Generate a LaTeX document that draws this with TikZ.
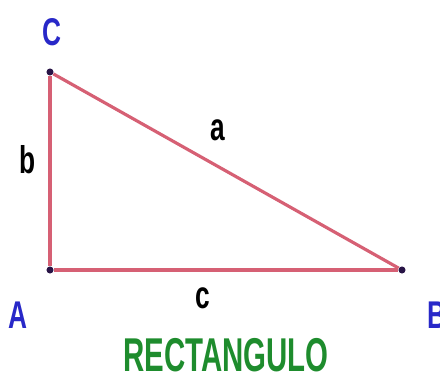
\documentclass[tikz,border=0pt]{standalone}
\usepackage{fontspec}
\setmainfont{Liberation Sans}
\usepackage{graphicx}
\definecolor{sidered}{RGB}{214,96,116}
\definecolor{vertblue}{RGB}{40,40,200}
\definecolor{titlegreen}{RGB}{30,140,45}
\definecolor{dotnavy}{RGB}{40,20,70}
\newcommand{\squeeze}[1]{\scalebox{0.68}[1]{#1}}
\begin{document}
\begin{tikzpicture}[
      vertex/.style={circle, fill=dotnavy, inner sep=0pt, minimum size=4pt},
      vname/.style={text=vertblue, font=\fontsize{22}{22}\selectfont\bfseries},
      sname/.style={text=black, font=\fontsize{22}{22}\selectfont\bfseries},
      side/.style={draw=sidered, line width=1.8pt}
  ]
  \useasboundingbox (0,0) rectangle (8.8,7.48);

  % Vertices
  \node[vertex] (A) at (1.0,2.08) {};
  \node[vertex] (C) at (1.0,6.04) {};
  \node[vertex] (B) at (8.04,2.08) {};

  % Sides
  \draw[side] (A) -- (C);
  \draw[side] (C) -- (B);
  \draw[side] (A) -- (B);

  % Labels
  \node[vname] (labC) at (1.04,6.84) {\squeeze{C}};
  \node[vname] (labA) at (0.36,1.18) {\squeeze{A}};
  \node[vname] (labB) at (8.74,1.18) {\squeeze{B}};
  \node[sname] (laba) at (4.36,4.88) {\squeeze{a}};
  \node[sname] (labb) at (0.56,4.28) {\squeeze{b}};
  \node[sname] (labc) at (4.06,1.52) {\squeeze{c}};
  \node[text=titlegreen, font=\fontsize{27}{27}\selectfont\bfseries] (title) at (4.52,0.38) {\scalebox{0.62}[1]{RECTANGULO}};

\end{tikzpicture}
\end{document}
